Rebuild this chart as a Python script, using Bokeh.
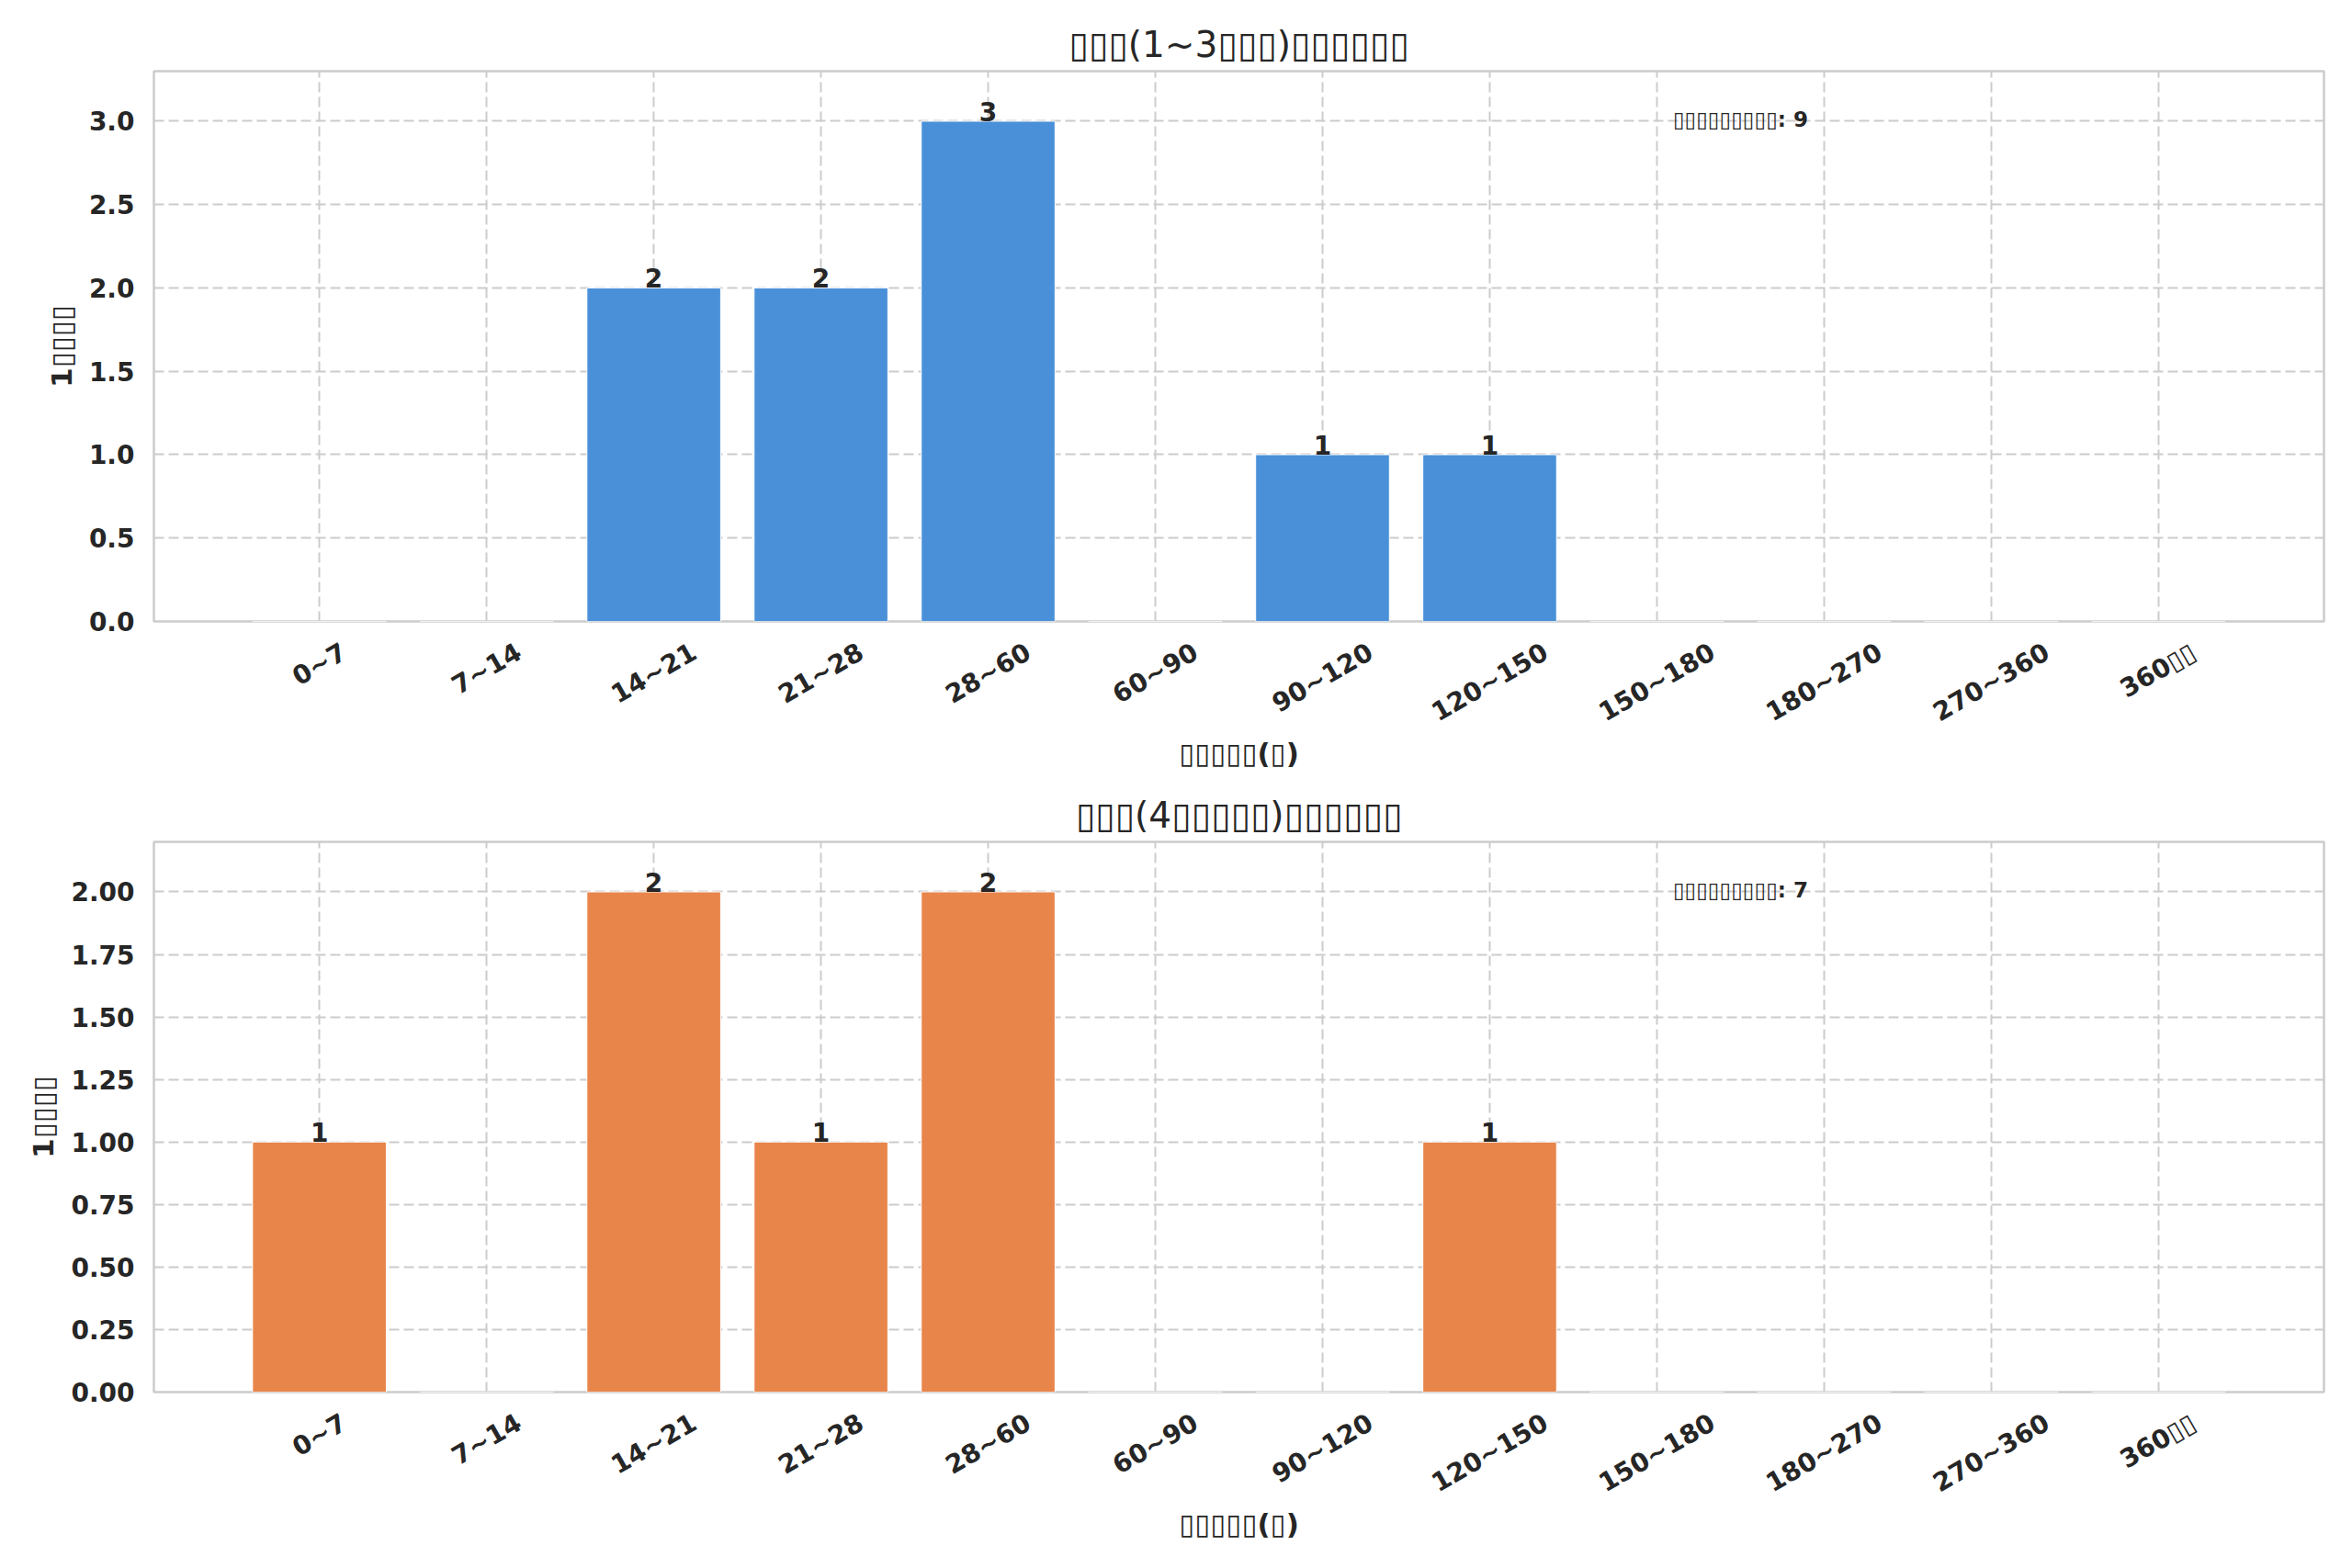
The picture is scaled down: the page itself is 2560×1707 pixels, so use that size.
import numpy as np
from bokeh.plotting import figure
from bokeh.models import (ColumnDataSource, Range1d, FixedTicker,
                          PrintfTickFormatter, Label, LabelSet)
from bokeh.core.properties import value
from bokeh.layouts import column
from bokeh.embed import file_html
from bokeh.resources import INLINE

T = "\u25af"  # missing-glyph box as rendered in the original

# ---- data ----
categories = ["0~7", "7~14", "14~21", "21~28", "28~60", "60~90", "90~120",
              "120~150", "150~180", "180~270", "270~360", "360" + T + T]
counts_new = [0, 0, 2, 2, 3, 0, 1, 1, 0, 0, 0, 0]
counts_repeat = [1, 0, 2, 1, 2, 0, 0, 1, 0, 0, 0, 0]
titles = [T * 3 + "(1~3" + T * 3 + ")" + T * 6,
          T * 3 + "(4" + T * 5 + ")" + T * 6]
y_label = "1" + T * 4
x_label = T * 5 + "(" + T + ")"
note_prefix = T * 9 + ": "
y_ticks_new = [0.0, 0.5, 1.0, 1.5, 2.0, 2.5, 3.0]
y_ticks_repeat = [0.0, 0.25, 0.5, 0.75, 1.0, 1.25, 1.5, 1.75, 2.0]
colors = ["#4a90d9", "#e8854b"]

FONT = "DejaVu Sans"
TXT = "#262626"
GRID = "#cccccc"
TICK_PX = 28
FRAME_W = 2362
BAR_W = 0.8

# approximate advance widths (em) of DejaVu Sans Bold, used to centre the
# rotated category labels on their ticks the way the original does
char_em = {"~": 0.838, T: 0.52}


def text_px(s):
    return sum(char_em.get(c, 0.696) for c in s) * TICK_PX


def make_panel(counts, title, yticks, fmt, color, border_top, border_bottom):
    n = len(categories)
    positions = list(range(n))          # category slots, as in a bar chart
    margin = 0.05 * ((n - 1) + BAR_W)
    x0, x1 = -BAR_W / 2 - margin, (n - 1) + BAR_W / 2 + margin
    ymax = max(counts) * 1.1
    p = figure(x_range=Range1d(x0, x1), y_range=Range1d(0, ymax),
               frame_width=FRAME_W, frame_height=599,
               min_border_left=167, min_border_right=15,
               min_border_top=border_top, min_border_bottom=border_bottom,
               output_backend="svg", toolbar_location=None,
               background_fill_color="white", border_fill_color="white")
    src = ColumnDataSource(dict(x=positions, cnt=counts))
    p.vbar(x="x", top="cnt", width=BAR_W, source=src, fill_color=color,
           line_color="white", line_width=1)

    # bar value labels
    nz = [i for i, c in enumerate(counts) if c > 0]
    lsrc = ColumnDataSource(dict(x=[positions[i] for i in nz],
                                 cnt=[counts[i] for i in nz],
                                 txt=[str(counts[i]) for i in nz]))
    p.add_layout(LabelSet(x="x", y="cnt", text="txt", source=lsrc,
                          text_align="center", text_baseline="alphabetic",
                          text_font=value(FONT), text_font_style="bold",
                          text_font_size="28px", text_color=TXT))

    # total note
    p.add_layout(Label(x=x0 + 0.7 * (x1 - x0), y=ymax, y_offset=-52,
                       text=note_prefix + str(sum(counts)),
                       text_align="left", text_baseline="middle",
                       text_font=FONT, text_font_style="bold",
                       text_font_size="23px", text_color=TXT))

    # title
    p.title.text = title
    p.title.align = "center"
    p.title.text_font = FONT
    p.title.text_font_style = "normal"
    p.title.text_font_size = "39px"
    p.title.text_color = TXT
    p.title.standoff = 13

    # x axis: Bokeh anchors a rotated label at its end, so each label's tick
    # is moved half a label length along the text to centre it on its bar
    px_per_unit = FRAME_W / (x1 - x0)
    cos30 = np.cos(np.pi / 6)
    ticks, overrides = [], {}
    for pos, c in zip(positions, categories):
        t = round(pos + 0.5 * text_px(c) * cos30 / px_per_unit, 4)
        ticks.append(t)
        overrides[t] = c
    xax = p.xaxis[0]
    xax.ticker = FixedTicker(ticks=ticks)
    xax.major_label_overrides = overrides
    xax.major_label_orientation = np.pi / 6
    xax.major_label_text_font = FONT
    xax.major_label_text_font_style = "bold"
    xax.major_label_text_font_size = f"{TICK_PX}px"
    xax.major_label_text_color = TXT
    xax.major_label_standoff = 31
    xax.axis_label = x_label
    xax.axis_label_text_font = FONT
    xax.axis_label_text_font_style = "bold"
    xax.axis_label_text_font_size = "31px"
    xax.axis_label_text_color = TXT
    xax.axis_label_standoff = -7
    xax.axis_line_color = None
    xax.major_tick_line_color = None
    xax.minor_tick_line_color = None
    xax.major_tick_out = 0
    xax.major_tick_in = 0

    # y axis
    yax = p.yaxis[0]
    yax.ticker = FixedTicker(ticks=yticks)
    yax.formatter = PrintfTickFormatter(format=fmt)
    yax.axis_label = y_label
    yax.axis_label_text_font = FONT
    yax.axis_label_text_font_style = "bold"
    yax.axis_label_text_font_size = "31px"
    yax.axis_label_text_color = TXT
    yax.axis_label_standoff = 9
    yax.major_label_text_font = FONT
    yax.major_label_text_font_style = "bold"
    yax.major_label_text_font_size = "28px"
    yax.major_label_text_color = TXT
    yax.major_label_standoff = 21
    yax.axis_line_color = None
    yax.major_tick_line_color = None
    yax.minor_tick_line_color = None
    yax.major_tick_out = 0
    yax.major_tick_in = 0

    # vertical grid at the category slots
    p.xgrid.ticker = FixedTicker(ticks=positions)
    for g in (p.xgrid, p.ygrid):
        g.grid_line_color = GRID
        g.grid_line_width = 2
        g.grid_line_dash = "11 5"
    p.outline_line_color = GRID
    p.outline_line_width = 2.5
    return p


p1 = make_panel(counts_new, titles[0], y_ticks_new, "%.1f", colors[0], 77, 177)
p2 = make_panel(counts_repeat, titles[1], y_ticks_repeat, "%.2f", colors[1], 63, 184)

layout = column(p1, p2, spacing=0)
open("out.html", "w").write(file_html(layout, INLINE))
